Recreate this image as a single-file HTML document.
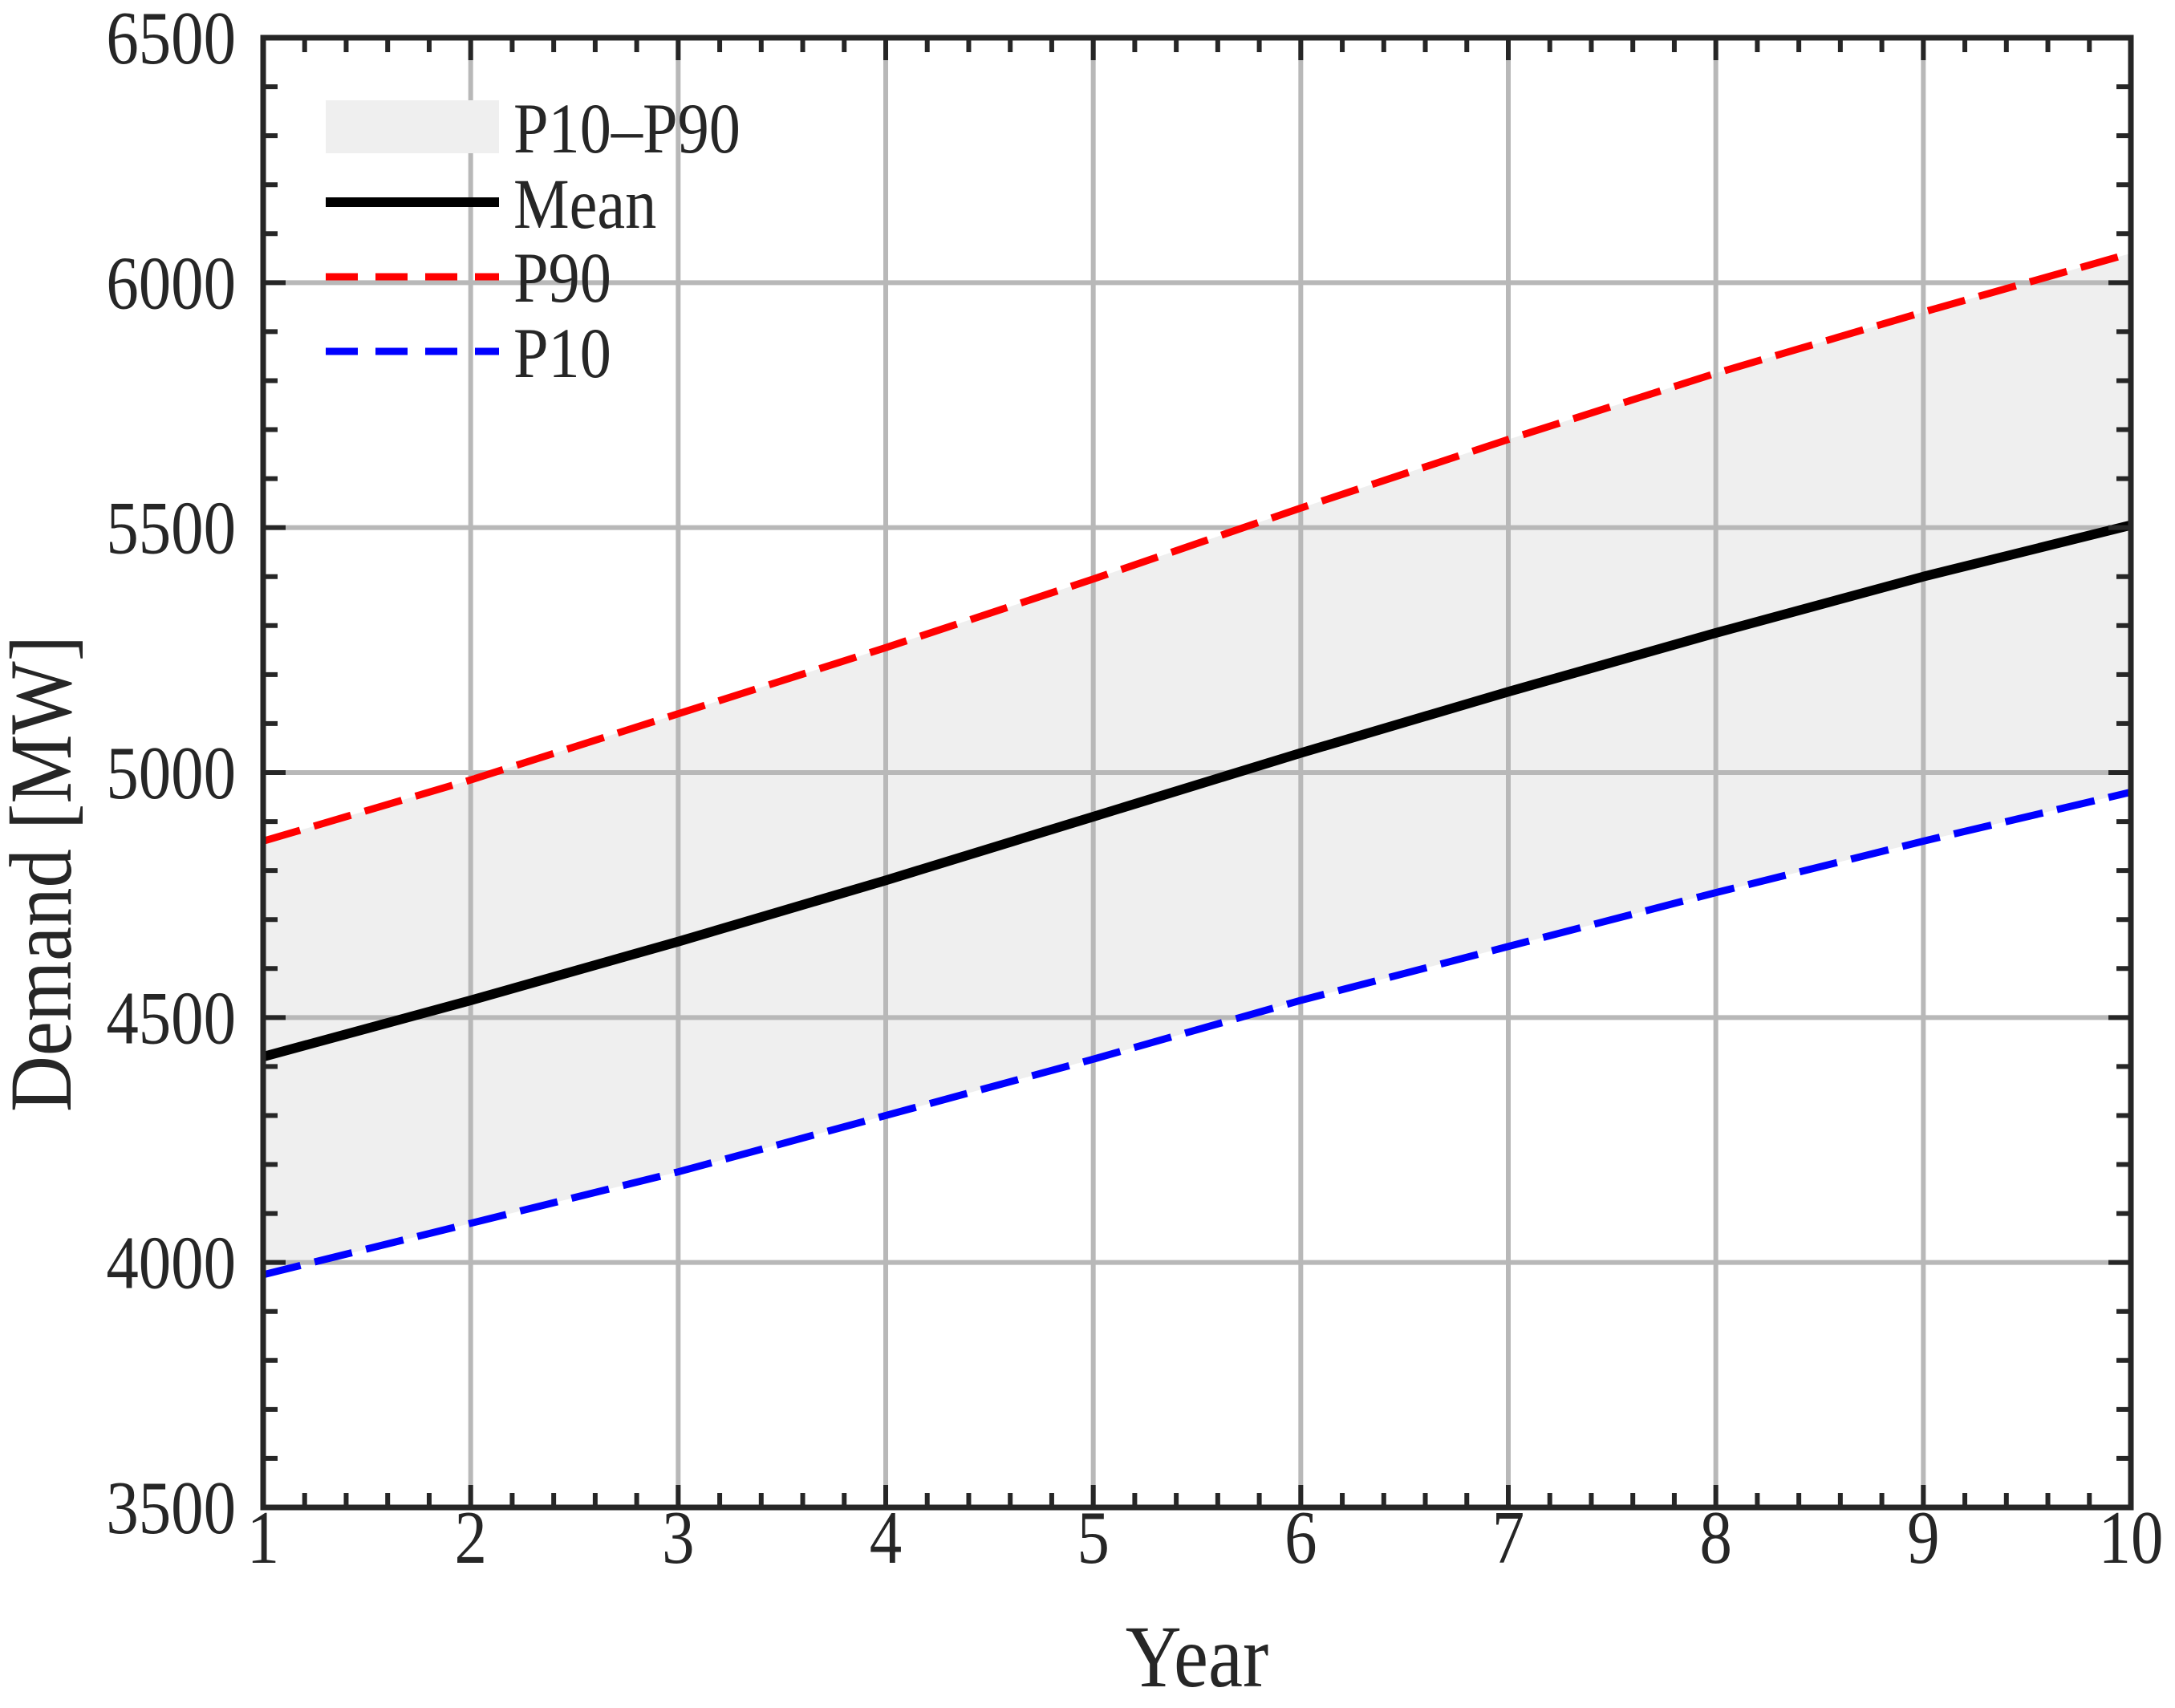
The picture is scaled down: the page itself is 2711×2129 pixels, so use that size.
<!DOCTYPE html>
<html><head><meta charset="utf-8"><style>
html,body{margin:0;padding:0;background:#fff}
svg{display:block}
text{font-family:"Liberation Serif",serif;fill:#262626}
</style></head><body>
<svg id="chart" width="2711" height="2129" viewBox="0 0 2711 2129" xmlns="http://www.w3.org/2000/svg">
<g id="band"></g>
<g id="grid"></g>
<g id="lines"></g>
<g id="axes"></g>
<g id="legend">
  <rect x="406" y="125" width="216" height="66" fill="#efefef"/>
  <text transform="translate(640,190) scale(0.88,1)" font-size="89" fill="#000">P10–P90</text>
  <line x1="406" y1="252" x2="622" y2="252" stroke="#000" stroke-width="12"/>
  <text transform="translate(640,284) scale(0.88,1)" font-size="89" fill="#000">Mean</text>
  <line x1="406" y1="345" x2="622" y2="345" stroke="#f00" stroke-width="9" stroke-dasharray="40,22"/>
  <text transform="translate(640,376) scale(0.88,1)" font-size="89" fill="#000">P90</text>
  <line x1="406" y1="438" x2="622" y2="438" stroke="#00f" stroke-width="9" stroke-dasharray="40,22"/>
  <text transform="translate(640,470) scale(0.88,1)" font-size="89" fill="#000">P10</text>
</g>
<text transform="translate(1492,2102) scale(0.88,1)" font-size="110" text-anchor="middle">Year</text>
<text transform="translate(88,1089) rotate(-90) scale(0.88,1)" font-size="110" text-anchor="middle">Demand [MW]</text>
</svg>
<script>
const years = [1,2,3,4,5,6,7,8,9,10];
const meanVals = [4420,4535,4655,4780,4910,5040,5165,5285,5400,5505];
const p90Vals = [4860,4985,5120,5255,5395,5540,5680,5815,5940,6060];
const p10Vals = [3975,4080,4185,4300,4415,4535,4645,4755,4860,4960];
const xTicks = [1,2,3,4,5,6,7,8,9,10];
const yTicks = [3500,4000,4500,5000,5500,6000,6500];

const L=328,R=2656,T=47,B=1879;
const xMin=1,xMax=10,yMin=3500,yMax=6500;
const sx=v=>L+(v-xMin)/(xMax-xMin)*(R-L);
const sy=v=>B-(v-yMin)/(yMax-yMin)*(B-T);
const NS="http://www.w3.org/2000/svg";
function mk(tag,attrs,parent){const e=document.createElementNS(NS,tag);for(const k in attrs)e.setAttribute(k,attrs[k]);parent.appendChild(e);return e;}

const band=document.getElementById('band');
let d=years.map((x,i)=>(i?'L':'M')+sx(x)+','+sy(p90Vals[i])).join(' ');
for(let i=years.length-1;i>=0;i--)d+=' L'+sx(years[i])+','+sy(p10Vals[i]);
const bp=mk('path',{d:d+' Z',fill:'#efefef'},band);



const grid=document.getElementById('grid');
xTicks.forEach(v=>{const g=mk('line',{x1:sx(v),x2:sx(v),y1:T,y2:B,stroke:'#b8b8b8','stroke-width':6},grid);

});
yTicks.forEach(v=>{const g=mk('line',{x1:L,x2:R,y1:sy(v),y2:sy(v),stroke:'#b8b8b8','stroke-width':6},grid);

});

const lines=document.getElementById('lines');
function series(vals,color,w,dash,name){
  const p=mk('path',{d:years.map((x,i)=>(i?'L':'M')+sx(x)+','+sy(vals[i])).join(' '),fill:'none',stroke:color,'stroke-width':w,'stroke-linejoin':'round'},lines);
  if(dash)p.setAttribute('stroke-dasharray',dash);
  
  
}
series(p90Vals,'#f00',9,'48,18','p90-line');
series(p10Vals,'#00f',9,'48,18','p10-line');
series(meanVals,'#000',12,null,'mean-line');

const axes=document.getElementById('axes');
const frame=mk('rect',{x:L,y:T,width:R-L,height:B-T,fill:'none',stroke:'#262626','stroke-width':7},axes);


for(let v=xMin;v<=xMax+1e-9;v+=0.2){
  const major=Math.abs(v-Math.round(v))<1e-6, len=major?28:18;
  const t1=mk('line',{x1:sx(v),x2:sx(v),y1:B,y2:B-len,stroke:'#262626','stroke-width':6},axes);
  
  
  const t2=mk('line',{x1:sx(v),x2:sx(v),y1:T,y2:T+len,stroke:'#262626','stroke-width':6},axes);
  
  
}
for(let v=yMin;v<=yMax;v+=100){
  const major=v%500===0, len=major?28:18;
  const t1=mk('line',{x1:L,x2:L+len,y1:sy(v),y2:sy(v),stroke:'#262626','stroke-width':6},axes);
  
  
  const t2=mk('line',{x1:R,x2:R-len,y1:sy(v),y2:sy(v),stroke:'#262626','stroke-width':6},axes);
  
  
}
xTicks.forEach(v=>{const t=mk('text',{transform:'translate('+sx(v)+',1948) scale(0.86,1)','font-size':94,'text-anchor':'middle'},axes);t.textContent=v;

});
yTicks.forEach(v=>{const t=mk('text',{transform:'translate(294,'+(sy(v)+32)+') scale(0.86,1)','font-size':94,'text-anchor':'end'},axes);t.textContent=v;

});
</script>
</body></html>
